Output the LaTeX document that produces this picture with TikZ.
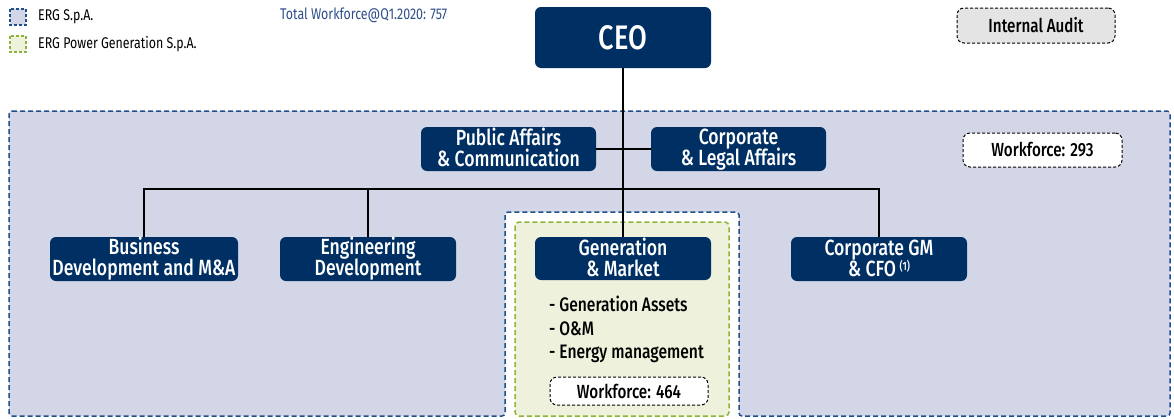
\documentclass[tikz,border=0pt]{standalone}
\usepackage{fontspec}
\setmainfont[FakeStretch=0.8,BoldFont={Fira Sans Medium}]{Fira Sans}
\usetikzlibrary{positioning}
\definecolor{navy}{HTML}{003063}
\definecolor{regblue}{HTML}{D3D6E6}
\definecolor{dashblue}{HTML}{1F4E8C}
\definecolor{reggreen}{HTML}{EEF2DC}
\definecolor{dashgreen}{HTML}{8DB33A}
\definecolor{auditgray}{HTML}{E4E4E4}
\definecolor{totblue}{HTML}{2D4E8A}
\newcommand\lst{\rule[-3pt]{0pt}{19pt}}
\newcommand\tightls{\lineskiplimit=-100pt\relax\lineskip=0pt\relax}
\tikzset{
  unitbox/.style={fill=navy, rounded corners=6pt, text=white, align=center, inner sep=0pt,
    font=\bfseries\fontsize{22}{21}\selectfont\tightls},
  wfbox/.style={draw=black, dashed, dash pattern=on 3pt off 2pt, line width=1pt, rounded corners=7pt,
    fill=white, inner sep=0pt, font=\bfseries\fontsize{19}{20}\selectfont},
  conn/.style={draw=black, line width=1.3pt},
  legtext/.style={anchor=west, inner sep=0pt, font=\fontsize{15.5}{17}\selectfont},
  listtext/.style={anchor=west, inner sep=0pt, font=\bfseries\fontsize{19.5}{21}\selectfont}
}
\begin{document}
\begin{tikzpicture}[x=1pt,y=-1pt]
\useasboundingbox (0,0) rectangle (1174,418);
% ERG S.p.A. region with notch
\path[fill=regblue, draw=dashblue, line width=1.5pt, dash pattern=on 5pt off 3pt, rounded corners=3pt]
  (9,111) -- (1170,111) -- (1170,416) -- (739,416) -- (739,212) -- (505,212) -- (505,416) -- (9,416) -- cycle;
% ERG Power Generation region
\path[fill=reggreen, draw=dashgreen, line width=1.5pt, dash pattern=on 5pt off 3pt, rounded corners=4pt]
  (515,222) rectangle (729,416);
% legend
\path[fill=regblue, draw=dashblue, line width=1.2pt, dash pattern=on 3pt off 2pt] (10,9) rectangle (26,25);
\node[legtext] (leg1) at (38,17) {ERG S.p.A.};
\path[fill=reggreen, draw=dashgreen, line width=1.2pt, dash pattern=on 3pt off 2pt] (10,36) rectangle (26,52);
\node[legtext] (leg2) at (38,44) {ERG Power Generation S.p.A.};
\node[legtext, text=totblue] (tot) at (280,15) {Total Workforce@Q1.2020: 757};
% nodes
\node[unitbox, minimum width=176pt, minimum height=61pt, font=\bfseries\fontsize{34}{36}\selectfont] (ceo) at (623,37.5) {CEO};
\node[wfbox, fill=auditgray, minimum width=158pt, minimum height=35pt] (ia) at (1036,25.5) {Internal Audit};
\node[unitbox, minimum width=175pt, minimum height=44pt] (pa) at (508.5,149) {\lst Public Affairs\\\lst\& Communication};
\node[unitbox, minimum width=175pt, minimum height=44pt] (cl) at (738.5,149) {\lst Corporate\\\lst\& Legal Affairs};
\node[unitbox, minimum width=188pt, minimum height=44pt] (bd) at (144,259) {\lst Business\\\lst Development and M\&A};
\node[unitbox, minimum width=176pt, minimum height=44pt] (ed) at (368,259) {\lst Engineering\\\lst Development};
\node[unitbox, minimum width=176pt, minimum height=43pt] (gm) at (623,258.5) {\lst Generation\\\lst\& Market};
\node[unitbox, minimum width=176pt, minimum height=44pt] (cfo) at (879,259) {\lst Corporate GM\\\lst\& CFO\,\raisebox{6pt}{\fontsize{12}{13}\selectfont(1)}};
\node[wfbox, minimum width=159pt, minimum height=34pt] (w293) at (1042.5,150) {Workforce: 293};
\node[wfbox, minimum width=158pt, minimum height=28pt] (w464) at (629,391) {Workforce: 464};
\node[listtext] (l1) at (549,304) {- Generation Assets};
\node[listtext] (l2) at (549,329) {- O\&M};
\node[listtext] (l3) at (549,354) {- Energy management};
% connectors
\coordinate (bus) at (0,189);
\draw[conn] (ceo.south) -- (gm.north);
\draw[conn] (pa.east) -- (cl.west);
\draw[conn] (bd.north) |- (cfo.north |- bus) -- (cfo.north);
\draw[conn] (ed.north) -- (ed.north |- bus);
\end{tikzpicture}
\end{document}
